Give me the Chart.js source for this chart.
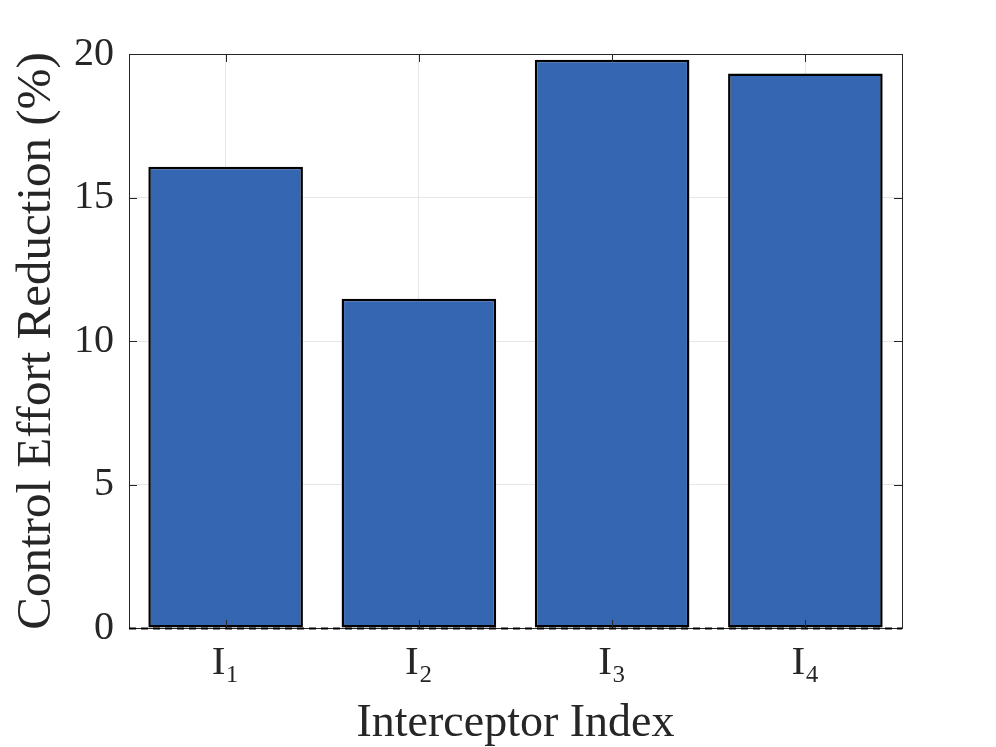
<!DOCTYPE html>
<html>
<head>
<meta charset="utf-8">
<script src="https://cdn.jsdelivr.net/npm/chart.js@4.4.1/dist/chart.umd.min.js"></script>
<style>
  html, body { margin: 0; padding: 0; background: #fff; }
  #myChart { display: block; }
</style>
</head>
<body>
<canvas id="myChart" width="996" height="747"></canvas>
<script>
const interceptors = ['I\u2081', 'I\u2082', 'I\u2083', 'I\u2084'];
const reduction = [16.07, 11.47, 19.80, 19.32];
const yTicks = [0, 5, 10, 15, 20];

const serif = "'Liberation Serif', 'DejaVu Serif', serif";
const axisColor = '#262626';

// box, inward ticks and the dashed zero line, drawn over the bars like MATLAB does
const boxPlugin = {
  id: 'box',
  afterDatasetsDraw(chart) {
    const {ctx, chartArea: a, scales: {x, y}} = chart;
    const len = 8;
    ctx.save();
    ctx.strokeStyle = axisColor;
    ctx.lineWidth = 1;
    ctx.beginPath();
    x.ticks.forEach((t, i) => {
      const px = Math.round(x.getPixelForTick(i)) + 0.5;
      ctx.moveTo(px, a.bottom); ctx.lineTo(px, a.bottom - len);
      ctx.moveTo(px, a.top); ctx.lineTo(px, a.top + len);
    });
    y.ticks.forEach((t, i) => {
      const py = Math.round(y.getPixelForTick(i)) + 0.5;
      ctx.moveTo(a.left, py); ctx.lineTo(a.left + len, py);
      ctx.moveTo(a.right, py); ctx.lineTo(a.right - len, py);
    });
    ctx.stroke();
    ctx.strokeRect(Math.round(a.left) + 0.5, Math.round(a.top) + 0.5,
      Math.round(a.right - a.left), Math.round(a.bottom - a.top));
    // baseline at zero
    const y0 = Math.round(y.getPixelForValue(0)) + 0.5;
    ctx.strokeStyle = '#000';
    ctx.lineWidth = 2;
    ctx.setLineDash([7, 5]);
    ctx.beginPath();
    ctx.moveTo(a.left, y0); ctx.lineTo(a.right, y0);
    ctx.stroke();
    ctx.restore();
  }
};

new Chart('myChart', {
  type: 'bar',
  data: {
    labels: interceptors,
    datasets: [{
      data: reduction,
      backgroundColor: '#3466b1',
      borderColor: '#000',
      borderWidth: 2.5,
      borderSkipped: false,
      barPercentage: 0.8,
      categoryPercentage: 1
    }]
  },
  options: {
    responsive: false,
    animation: false,
    devicePixelRatio: 1,
    layout: { padding: { top: 54, right: 94, left: 0, bottom: 0 } },
    plugins: {
      legend: { display: false },
      tooltip: { enabled: false }
    },
    scales: {
      x: {
        grid: { color: '#e6e6e6', offset: false, drawTicks: false },
        border: { display: false },
        ticks: {
          color: axisColor,
          padding: 15,
          font: { family: serif, size: 41, lineHeight: 1 }
        },
        title: {
          display: true,
          text: 'Interceptor Index',
          color: axisColor,
          padding: { top: 0, bottom: 0 },
          font: { family: serif, size: 46, lineHeight: 1 }
        },
        afterFit(scale) { scale.height = 119; }
      },
      y: {
        min: 0,
        max: 20,
        afterBuildTicks(scale) { scale.ticks = yTicks.map(v => ({ value: v })); },
        grid: { color: '#e6e6e6', drawTicks: false },
        border: { display: false },
        ticks: {
          color: axisColor,
          padding: 15,
          font: { family: serif, size: 40, lineHeight: 1 }
        },
        title: {
          display: true,
          text: 'Control Effort Reduction (%)',
          color: axisColor,
          padding: { top: 13, bottom: 0 },
          font: { family: serif, size: 49, lineHeight: 1 }
        },
        afterFit(scale) { scale.width = 129; }
      }
    }
  },
  plugins: [boxPlugin]
});
</script>
</body>
</html>
